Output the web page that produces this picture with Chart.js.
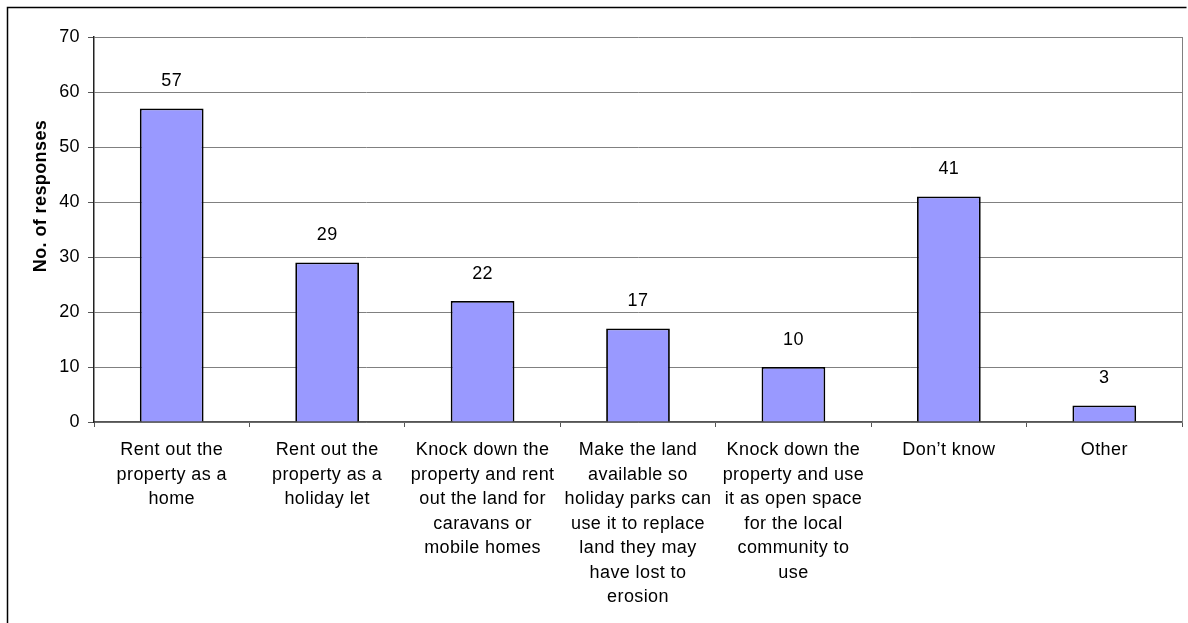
<!DOCTYPE html>
<html>
<head>
<meta charset="utf-8">
<script src="https://cdn.jsdelivr.net/npm/chart.js@4.4.0/dist/chart.umd.min.js"></script>
<style>
  html, body { margin: 0; padding: 0; background: #fff; }
  #wrap { width: 1188px; height: 623px; position: relative; }
</style>
</head>
<body>
<div id="wrap"><canvas id="responses-chart"></canvas></div>
<script>
// Survey answers: what should be done with the property
const categories = [
    ['Rent out the', 'property as a', 'home'],
    ['Rent out the', 'property as a', 'holiday let'],
    ['Knock down the', 'property and rent', 'out the land for', 'caravans or', 'mobile homes'],
    ['Make the land', 'available so', 'holiday parks can', 'use it to replace', 'land they may', 'have lost to', 'erosion'],
    ['Knock down the', 'property and use', 'it as open space', 'for the local', 'community to', 'use'],
    ['Don\u2019t know'],
    ['Other']
];
const responses = [57, 29, 22, 17, 10, 41, 3];
const yTicks = [0, 10, 20, 30, 40, 50, 60, 70];
const yTitle = 'No. of responses';

const FONT = '"Liberation Sans", Arial, sans-serif';

// Frame round the whole chart, right border of the plot and the axis title
const decorations = {
    id: 'decorations',
    beforeDraw(chart) {
        const c = chart.ctx;
        c.save();
        c.fillStyle = '#fff';
        c.fillRect(0, 0, chart.width, chart.height);
        c.strokeStyle = '#000';
        c.lineWidth = 1.5;
        c.beginPath();
        c.moveTo(7.5, chart.height + 2);
        c.lineTo(7.5, 7.5);
        c.lineTo(chart.width - 1.5, 7.5);
        c.stroke();
        c.restore();
        // slightly wider text, as in the original export
        c.letterSpacing = '0.4px';
    },
    afterDraw(chart) {
        const c = chart.ctx;
        const area = chart.chartArea;
        c.save();
        c.strokeStyle = '#808080';
        c.lineWidth = 1;
        c.beginPath();
        c.moveTo(Math.round(area.right) + 0.5, area.top);
        c.lineTo(Math.round(area.right) + 0.5, area.bottom);
        c.stroke();

        c.translate(41, 196);
        c.rotate(-Math.PI / 2);
        c.fillStyle = '#000';
        c.font = 'bold 18px ' + FONT;
        c.textAlign = 'center';
        c.textBaseline = 'middle';
        c.fillText(yTitle, 0, 0);
        c.restore();
    }
};

// Value printed above each bar
const barValues = {
    id: 'barValues',
    afterDatasetsDraw(chart) {
        const c = chart.ctx;
        const meta = chart.getDatasetMeta(0);
        c.save();
        c.fillStyle = '#000';
        c.font = '18px ' + FONT;
        c.textAlign = 'center';
        c.textBaseline = 'middle';
        meta.data.forEach((bar, i) => {
            c.fillText(String(responses[i]), bar.x, bar.y - 27);
        });
        c.restore();
    }
};

new Chart(document.getElementById('responses-chart'), {
    type: 'bar',
    data: {
        labels: categories,
        datasets: [{
            data: responses,
            backgroundColor: '#9999ff',
            borderColor: '#000',
            borderWidth: 1.8,
            barPercentage: 0.41,
            categoryPercentage: 1
        }]
    },
    options: {
        responsive: true,
        maintainAspectRatio: false,
        animation: false,
        devicePixelRatio: 1,
        layout: { padding: { left: 0, top: 37, right: 6, bottom: 0 } },
        plugins: {
            legend: { display: false },
            tooltip: { enabled: false }
        },
        scales: {
            x: {
                afterFit(scale) { scale.height = 201; },
                grid: {
                    offset: true,
                    drawOnChartArea: false,
                    drawTicks: true,
                    tickLength: 5,
                    color: '#555',
                    tickColor: '#555'
                },
                border: { color: '#555', width: 1.5 },
                ticks: {
                    color: '#000',
                    font: { family: FONT, size: 18, lineHeight: 1.36 },
                    padding: 11,
                    autoSkip: false,
                    maxRotation: 0,
                    minRotation: 0
                }
            },
            y: {
                min: yTicks[0],
                max: yTicks[yTicks.length - 1],
                afterFit(scale) { scale.width = 94; },
                afterBuildTicks(scale) { scale.ticks = yTicks.map(v => ({ value: v })); },
                grid: {
                    color: '#808080',
                    lineWidth: 1,
                    tickLength: 6,
                    tickColor: '#555'
                },
                border: { color: '#222', width: 1.5 },
                ticks: {
                    color: '#000',
                    font: { family: FONT, size: 18 },
                    padding: 8
                }
            }
        }
    },
    plugins: [decorations, barValues]
});
</script>
</body>
</html>
